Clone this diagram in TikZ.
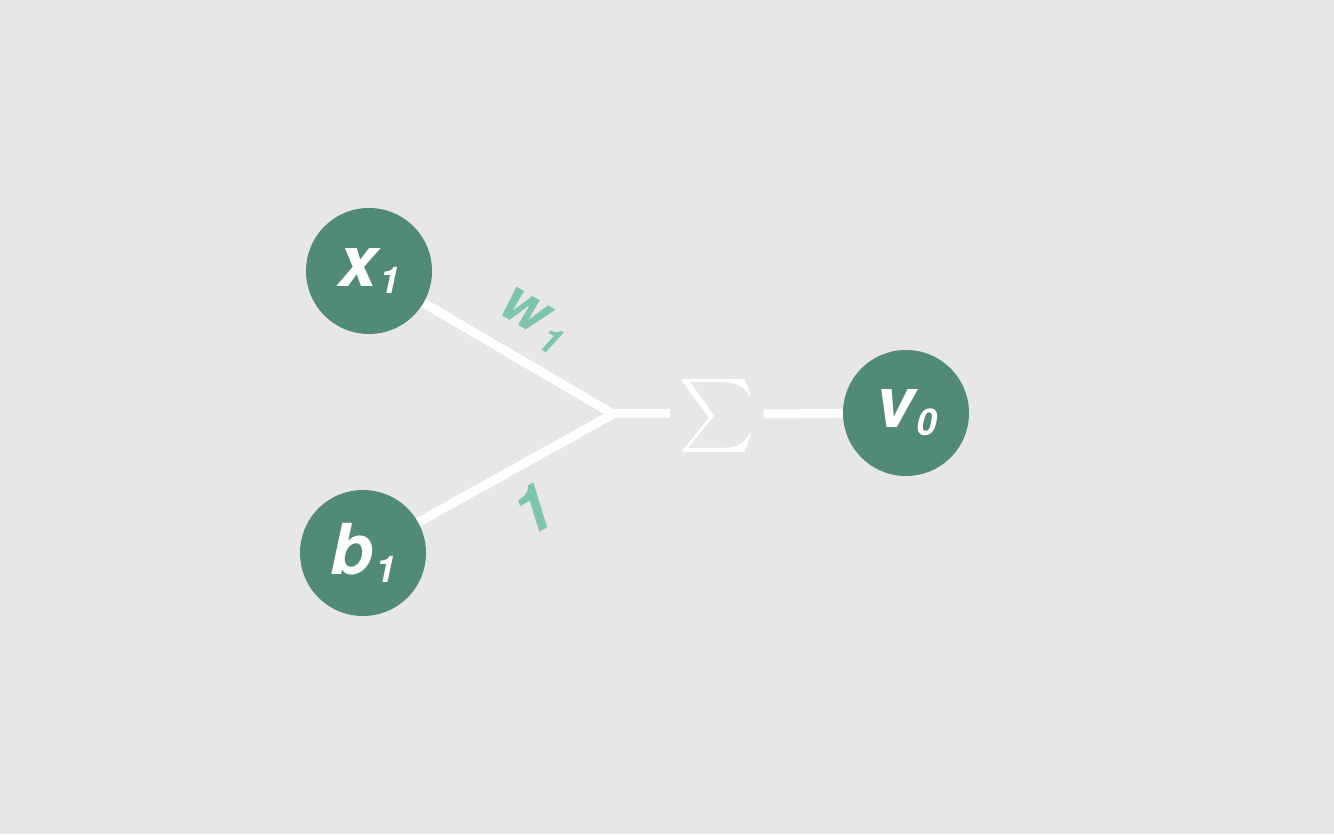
\documentclass[tikz,border=0pt]{standalone}
\usepackage{amsmath}
\usepackage{fontspec}
\newfontfamily\nodefont{TeX Gyre Heros}
\usepackage{xcolor}
\usepackage{tikz}
\usetikzlibrary{positioning}
\usetikzlibrary{calc}
\definecolor{bggray}{RGB}{231,231,231}
\definecolor{nodeteal}{RGB}{82,138,122}
\definecolor{labelteal}{RGB}{127,196,175}
\newcommand{\nsub}[1]{\kern1pt\raisebox{-4.5pt}{\fontsize{21}{21}\selectfont #1}}
\newcommand{\lsub}[1]{\kern2.5pt\raisebox{-5pt}{\fontsize{21}{21}\selectfont #1}}
\tikzset{%
  neuron/.style = {circle, fill=nodeteal, text=white, minimum size=2.52cm, inner sep=0pt,
                   font=\nodefont\fontsize{40}{40}\selectfont\bfseries\itshape},
  wire/.style = {draw=white, line width=0.18cm},
  weight/.style = {text=labelteal, inner sep=0pt, font=\nodefont\fontsize{34}{34}\selectfont\bfseries\itshape}
}

\begin{document}
\begin{tikzpicture}[%
    node distance=1cm,
    align=center]

  \fill[bggray] (0,0) rectangle (26.68,16.68);

  % nodes
  \node (x1) [neuron] at (7.38,11.26) {x\nsub{1}};
  \node (b1) [neuron] at (7.26,5.62) {b\nsub{1}};
  \coordinate (join) at (12.26,8.40);
  \node (sum) [text=white, inner sep=0pt, minimum width=1.86cm] at (14.33,8.36) {\scalebox{4.15}{$\sum$}};
  \node (v0) [neuron] at (18.12,8.42) {v\nsub{0}};

  \draw[wire] (x1) -- node[weight, pos=0.47, sloped, above=0.3cm] {w\lsub{1}} (join);
  \draw[wire] (b1) -- node[weight, pos=0.48, sloped, below=0.34cm, font=\nodefont\fontsize{37}{37}\selectfont\bfseries\itshape] {1} (join);
  \draw[wire] (join) -- (sum.west |- join);
  \draw[wire] (sum.east |- join) -- (v0);
\end{tikzpicture}
\end{document}
